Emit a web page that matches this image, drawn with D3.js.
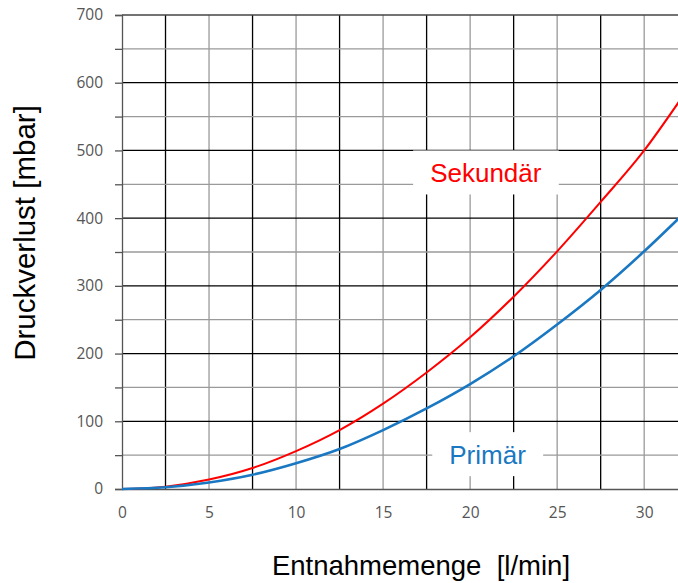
<!DOCTYPE html>
<html>
<head>
<meta charset="utf-8">
<script src="https://cdn.jsdelivr.net/npm/d3@7"></script>
<style>
  body { margin: 0; background: #fff; }
  svg { display: block; }
</style>
</head>
<body>
<div id="chart"></div>
<script>
// values
const flow = [0, 2.5, 5, 7.5, 10, 12.5, 15, 17.5, 20, 22.5, 25, 27.5, 30, 32];
const sekundaer = [0, 3.5, 14, 31, 56, 87, 126, 172, 224, 284, 351, 424, 500, 572];
const primaer = [0, 2.5, 9.5, 21, 38, 59, 87, 119, 155, 196, 243, 294, 351, 400];
const xTicks = [0, 5, 10, 15, 20, 25, 30];
const yTicks = [0, 100, 200, 300, 400, 500, 600, 700];
const seriesNames = ['Sekundär', 'Primär'];
const seriesColors = ['#ff0000', '#1a78c2'];
// label anchor in data coords
const labelX = [20.9, 21.0];
const labelY = [466, 50];

const width = 678, height = 583;
const margin = { top: 15, right: 0, bottom: 94, left: 122 };

const svg = d3.select('#chart')
  .append('svg')
  .attr('width', width)
  .attr('height', height);

const xScale = d3.scaleLinear()
  .domain([0, 32])
  .range([margin.left, 679]);

const yScale = d3.scaleLinear()
  .domain([0, 700])
  .range([height - margin.bottom, margin.top]);

// grid
const xGrid = d3.range(2.5, 31, 2.5);
const yGrid = d3.range(50, 701, 50);

svg.append('g')
  .selectAll('line')
  .data(xGrid)
  .enter()
  .append('line')
  .attr('x1', d => xScale(d)).attr('x2', d => xScale(d))
  .attr('y1', yScale(0)).attr('y2', yScale(700))
  .attr('stroke', d => d % 5 === 0 ? '#9a9a9a' : '#000')
  .attr('stroke-width', 1.3);

svg.append('g')
  .selectAll('line')
  .data(yGrid)
  .enter()
  .append('line')
  .attr('x1', xScale(0)).attr('x2', width)
  .attr('y1', d => yScale(d)).attr('y2', d => yScale(d))
  .attr('stroke', d => d === 700 ? '#444' : (d % 100 === 0 ? '#000' : '#9a9a9a'))
  .attr('stroke-width', 1.3);

// y axis
const yAxis = d3.axisLeft(yScale)
  .tickValues(d3.range(0, 701, 50))
  .tickSize(7)
  .tickPadding(12)
  .tickFormat(d => yTicks.includes(d) ? d : '');

const gy = svg.append('g')
  .attr('transform', `translate(${xScale(0)},0)`)
  .call(yAxis);
gy.select('.domain').attr('stroke', '#555').attr('stroke-width', 1.3);
gy.selectAll('.tick line').attr('stroke', '#555').attr('stroke-width', 1.3);
gy.selectAll('.tick text')
  .attr('fill', '#555')
  .style('font-family', '"Open Sans", sans-serif')
  .style('font-size', '15.5px');

// x axis
const xAxis = d3.axisBottom(xScale)
  .tickValues(xTicks)
  .tickSize(0)
  .tickPadding(18);

const gx = svg.append('g')
  .attr('transform', `translate(0,${yScale(0)})`)
  .call(xAxis);
gx.select('.domain').attr('stroke', '#555').attr('stroke-width', 1.3);
gx.selectAll('.tick text')
  .attr('fill', '#555')
  .style('font-family', '"Open Sans", sans-serif')
  .style('font-size', '15.5px');

// curves
const line = d3.line()
  .x((d, i) => xScale(flow[i]))
  .y(d => yScale(d))
  .curve(d3.curveMonotoneX);

[sekundaer, primaer].forEach((vals, k) => {
  svg.append('path')
    .datum(vals)
    .attr('fill', 'none')
    .attr('stroke', seriesColors[k])
    .attr('stroke-width', k === 0 ? 2 : 2.6)
    .attr('d', line);
});

// series labels with white boxes
seriesNames.forEach((name, k) => {
  const g = svg.append('g');
  const t = g.append('text')
    .attr('x', xScale(labelX[k]))
    .attr('y', yScale(labelY[k]))
    .attr('text-anchor', 'middle')
    .attr('dominant-baseline', 'central')
    .attr('fill', seriesColors[k])
    .style('font-family', '"Liberation Sans", Arial, sans-serif')
    .style('font-size', '26px')
    .text(name);
  const bb = t.node().getBBox();
  g.insert('rect', 'text')
    .attr('x', bb.x - 17)
    .attr('y', bb.y - 8)
    .attr('width', bb.width + 34)
    .attr('height', bb.height + 14)
    .attr('fill', '#fff');
});

// axis titles
svg.append('text')
  .attr('x', 421)
  .attr('y', 575)
  .attr('text-anchor', 'middle')
  .attr('xml:space', 'preserve')
  .style('white-space', 'pre')
  .style('font-family', '"Liberation Sans", Arial, sans-serif')
  .style('font-size', '27.5px')
  .attr('fill', '#000')
  .text('Entnahmemenge  [l/min]');

svg.append('text')
  .attr('transform', 'translate(35,233) rotate(-90)')
  .attr('text-anchor', 'middle')
  .style('font-family', '"Liberation Sans", Arial, sans-serif')
  .style('font-size', '29.5px')
  .attr('fill', '#000')
  .text('Druckverlust [mbar]');
</script>
</body>
</html>
